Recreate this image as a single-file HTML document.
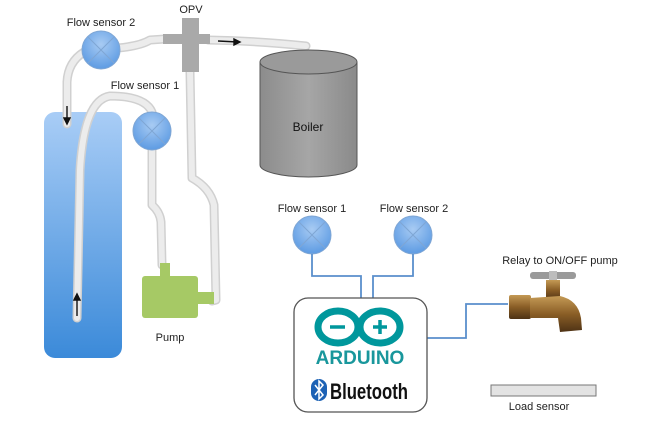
<!DOCTYPE html>
<html><head><meta charset="utf-8"><style>
html,body{margin:0;padding:0;background:#fff;}
svg{display:block;font-family:"Liberation Sans",sans-serif;}
</style></head><body>
<svg width="663" height="429" viewBox="0 0 663 429">
<defs>
<linearGradient id="tank" x1="0" y1="0" x2="0" y2="1"><stop offset="0" stop-color="#a9cdf6"/><stop offset="1" stop-color="#3b8ad9"/></linearGradient>
<radialGradient id="fs" cx="0.5" cy="0.35" r="0.65"><stop offset="0" stop-color="#a8cbf3"/><stop offset="1" stop-color="#5d9be3"/></radialGradient>
<linearGradient id="brass" x1="0" y1="0" x2="0" y2="1"><stop offset="0" stop-color="#c49a55"/><stop offset="0.5" stop-color="#8a5e26"/><stop offset="1" stop-color="#4e3215"/></linearGradient>
<linearGradient id="boil" x1="0" y1="0" x2="1" y2="0"><stop offset="0" stop-color="#8c8c8c"/><stop offset="0.5" stop-color="#a6a6a6"/><stop offset="1" stop-color="#8a8a8a"/></linearGradient>
</defs>

<!-- tank -->
<rect x="44" y="112" width="78" height="246" rx="11" fill="url(#tank)"/>

<!-- tubes -->
<g fill="none" stroke-linecap="round" stroke-linejoin="round">
<g stroke="#d0d0d0" stroke-width="9">
<path d="M84,52 Q68,62 67,82 L67,124"/>
<path d="M118,48 Q140,46 150,40 L165,39"/>
<path d="M208,40 Q260,41 306,46"/>
<path d="M77,318 L80,170 Q84,100 110,96 Q145,96 152,112"/>
<path d="M152,150 L152,205 Q160,212 161,222 L162,265"/>
<path d="M190,72 L192,178 Q210,188 214,205 L216,300 L212,301"/>
</g>
<g stroke="#ececec" stroke-width="6">
<path d="M84,52 Q68,62 67,82 L67,124"/>
<path d="M118,48 Q140,46 150,40 L165,39"/>
<path d="M208,40 Q260,41 306,46"/>
<path d="M77,318 L80,170 Q84,100 110,96 Q145,96 152,112"/>
<path d="M152,150 L152,205 Q160,212 161,222 L162,265"/>
<path d="M190,72 L192,178 Q210,188 214,205 L216,300 L212,301"/>
</g>
</g>
<!-- arrows -->
<g stroke="#111" stroke-width="1.4" fill="#111">
<line x1="67" y1="106" x2="67" y2="123"/><path d="M64,118 L67,124 L70,118Z"/>
<line x1="77" y1="316" x2="77" y2="296"/><path d="M74,300 L77,294 L80,300Z"/>
<line x1="218" y1="41" x2="238" y2="42"/><path d="M234,39 L240,42 L234,45Z"/>
</g>

<!-- OPV -->
<rect x="163" y="34" width="47" height="10" fill="#a9a9a9"/>
<rect x="182" y="18" width="17" height="54" fill="#a9a9a9"/>
<text x="191" y="13" font-size="11" text-anchor="middle" fill="#222">OPV</text>

<!-- flow sensors -->
<g stroke="#7fa6d4" stroke-width="1">
<circle cx="101" cy="50" r="19" fill="url(#fs)"/>
<path d="M88,37 L114,63 M114,37 L88,63"/>
<circle cx="152" cy="131" r="19" fill="url(#fs)"/>
<path d="M139,118 L165,144 M165,118 L139,144"/>
<circle cx="312" cy="235" r="19" fill="url(#fs)"/>
<path d="M299,222 L325,248 M325,222 L299,248"/>
<circle cx="413" cy="235" r="19" fill="url(#fs)"/>
<path d="M400,222 L426,248 M426,222 L400,248"/>
</g>
<g font-size="11" fill="#222" text-anchor="middle">
<text x="101" y="26">Flow sensor 2</text>
<text x="145" y="89">Flow sensor 1</text>
<text x="312" y="212">Flow sensor 1</text>
<text x="414" y="212">Flow sensor 2</text>
<text x="170" y="341">Pump</text>
<text x="560" y="264">Relay to ON/OFF pump</text>
<text x="539" y="410">Load sensor</text>
</g>

<!-- boiler -->
<path d="M260,62 L260,165 A48.5,12 0 0 0 357,165 L357,62Z" fill="url(#boil)" stroke="#555" stroke-width="1"/>
<ellipse cx="308.5" cy="62" rx="48.5" ry="12" fill="#9a9a9a" stroke="#555" stroke-width="1"/>
<text x="308" y="131" font-size="12" text-anchor="middle" fill="#111">Boiler</text>

<!-- pump -->
<rect x="160" y="263" width="10" height="14" fill="#a6c965"/>
<rect x="142" y="276" width="56" height="42" rx="3" fill="#a6c965"/>
<rect x="197" y="292" width="17" height="12" fill="#a6c965"/>

<!-- wires -->
<g fill="none" stroke="#5a8fcc" stroke-width="1.8">
<path d="M312,254 L312,276 L361,276 L361,298"/>
<path d="M413,254 L413,276 L373,276 L373,298"/>
<path d="M427,338 L466,338 L466,304 L508,304"/>
</g>

<!-- arduino box -->
<rect x="294" y="298" width="133" height="114" rx="14" fill="#fff" stroke="#555" stroke-width="1.3"/>
<g fill="none" stroke="#00979c" stroke-width="7">
<ellipse cx="338" cy="327" rx="20" ry="16"/>
<ellipse cx="380" cy="327" rx="20" ry="16"/>
</g>
<g stroke="#00979c" stroke-width="3.5">
<line x1="330" y1="327" x2="345" y2="327"/>
<line x1="373" y1="327" x2="387" y2="327"/><line x1="380" y1="320" x2="380" y2="334"/>
</g>
<text x="360" y="364" font-size="19" font-weight="bold" fill="#19979c" text-anchor="middle">ARDUINO</text>
<rect x="311" y="379" width="16" height="22" rx="8" fill="#1d62b5"/>
<path d="M315,385 L323,395 L319,399 L319,381 L323,385 L315,395" fill="none" stroke="#fff" stroke-width="1.5"/>
<text x="330" y="399" font-size="22" font-weight="bold" fill="#111" textLength="78" lengthAdjust="spacingAndGlyphs">Bluetooth</text>

<!-- faucet -->
<rect x="530" y="272" width="46" height="7" rx="3" fill="#9a9a9a"/>
<rect x="549" y="271" width="8" height="10" fill="#bdbdbd"/>
<rect x="546" y="280" width="14" height="20" fill="url(#brass)"/>
<rect x="509" y="295" width="22" height="24" rx="2" fill="url(#brass)"/>
<path d="M530,298 L560,296 Q578,300 581,318 L582,330 L560,332 L558,318 L530,318Z" fill="url(#brass)"/>

<!-- load sensor -->
<rect x="491" y="385" width="105" height="11" fill="#e3e3e3" stroke="#777" stroke-width="1"/>
</svg>
</body></html>
